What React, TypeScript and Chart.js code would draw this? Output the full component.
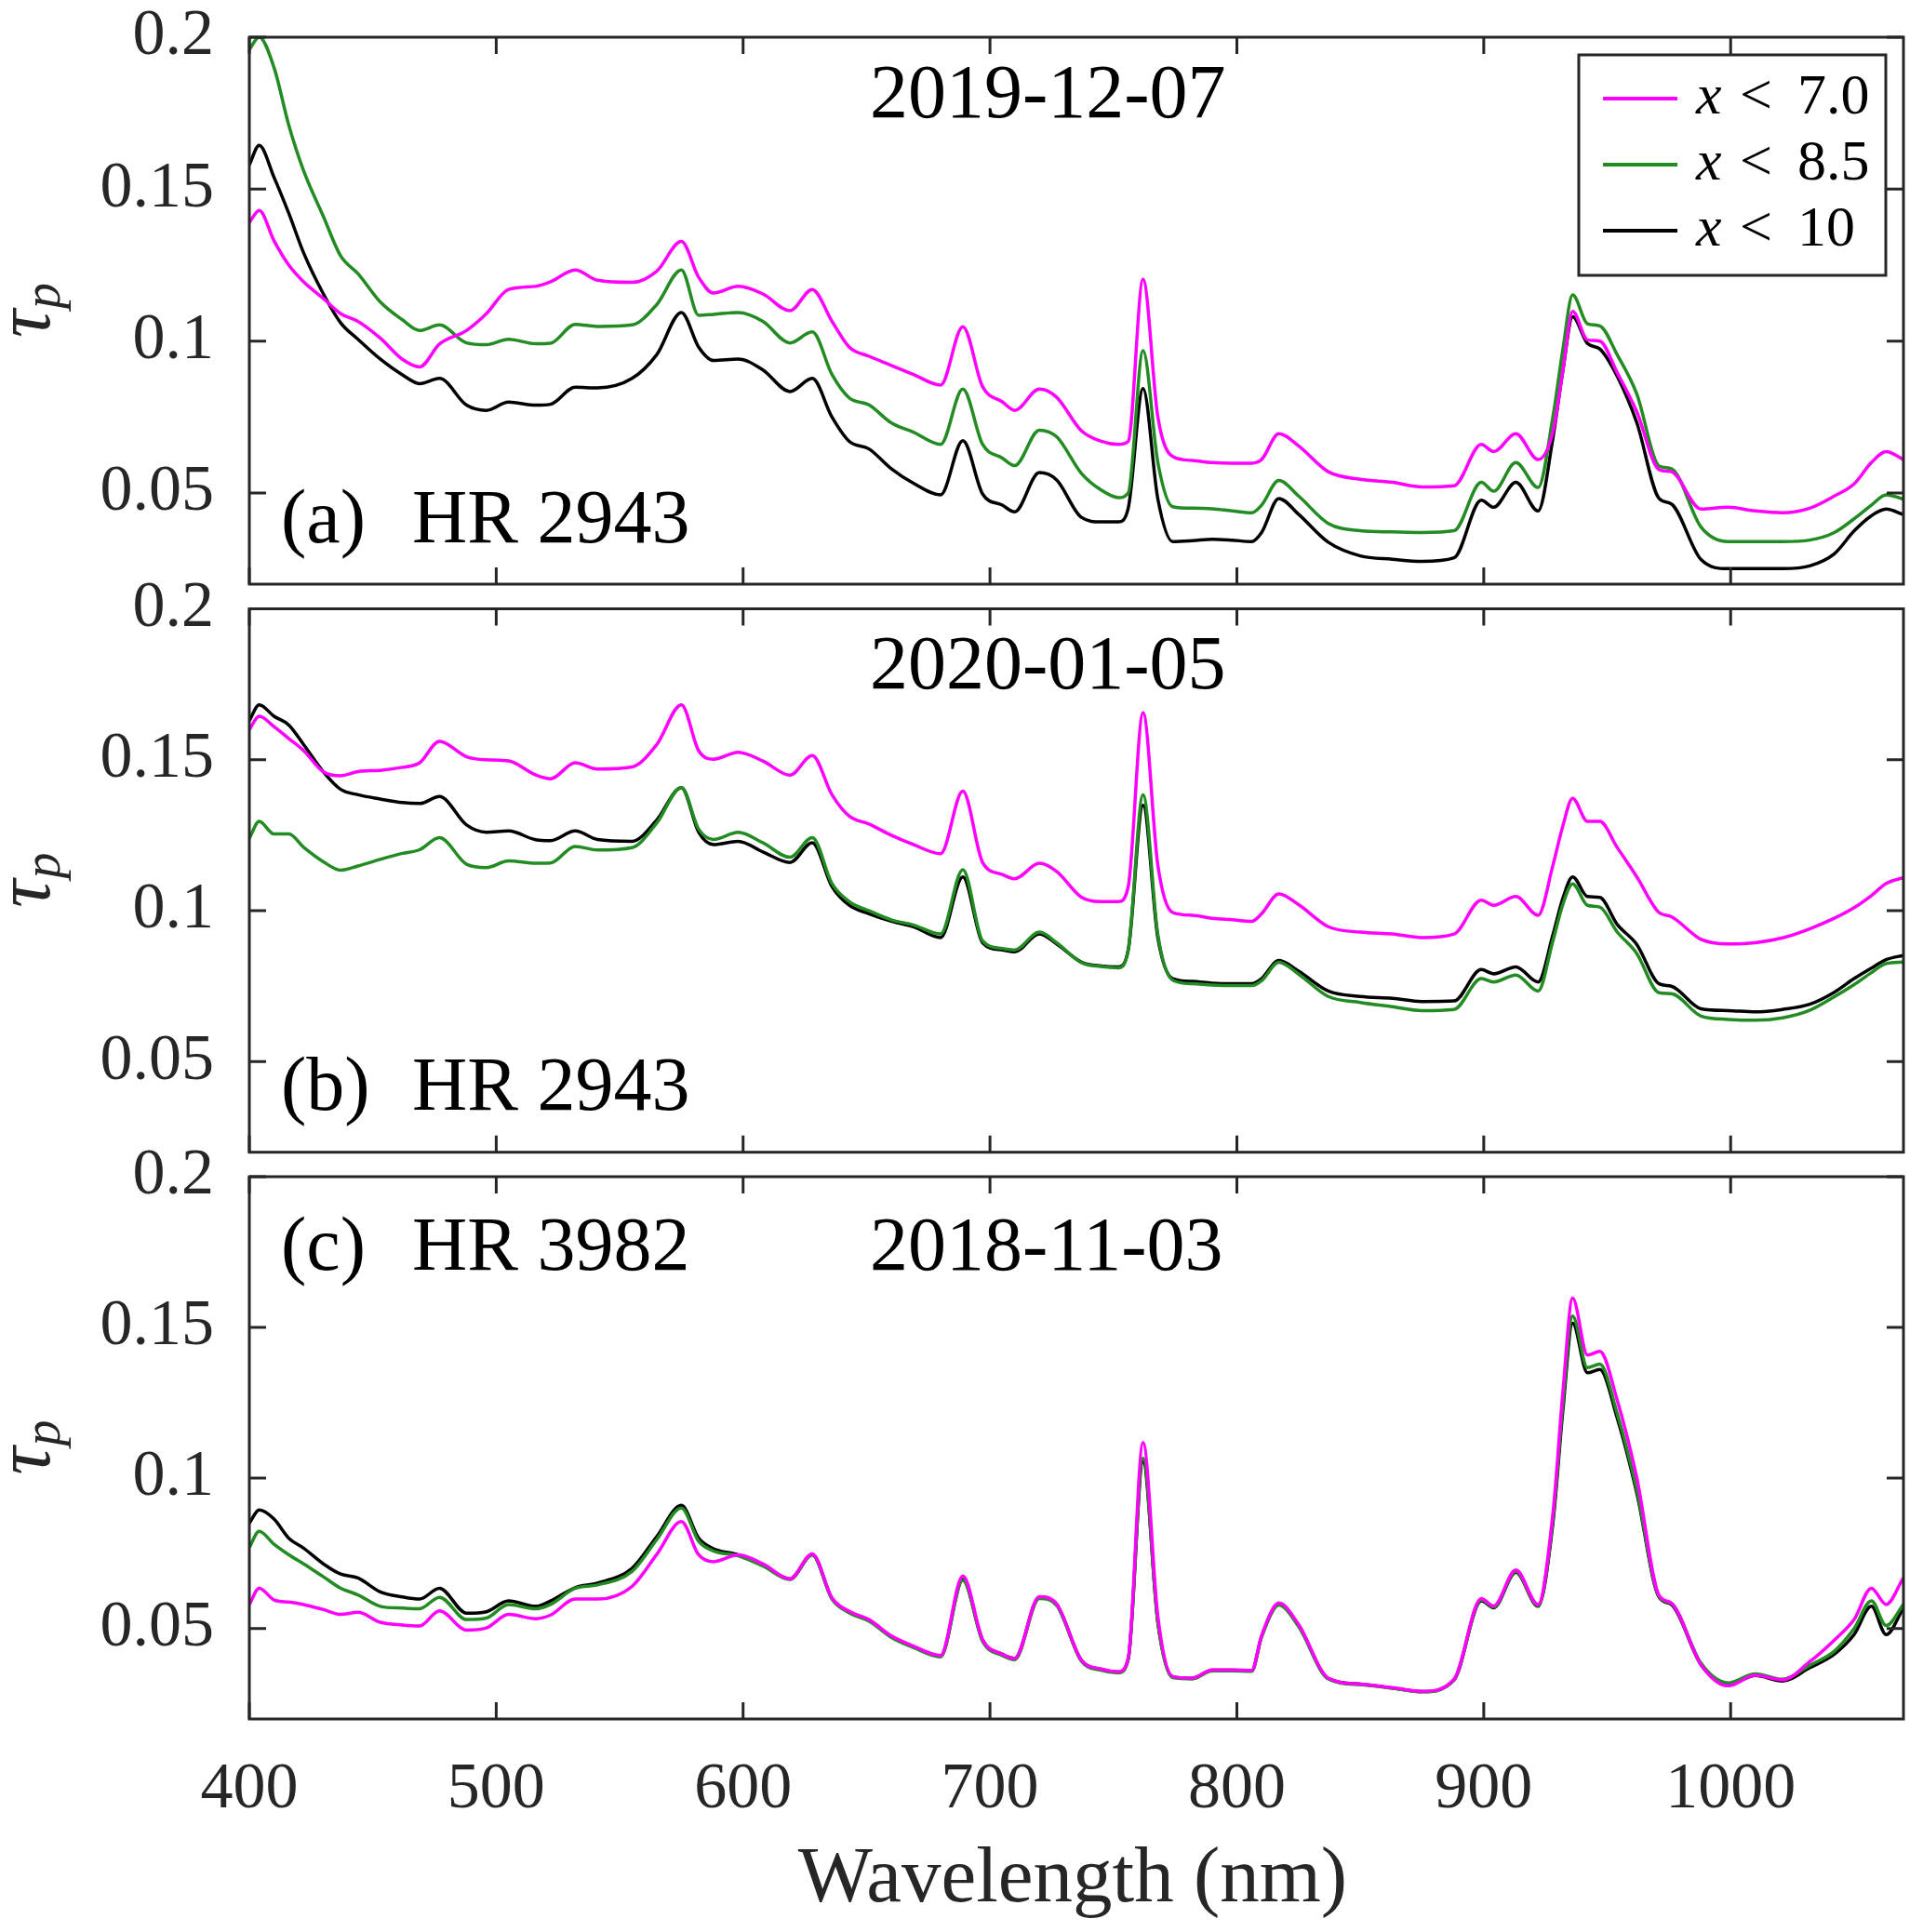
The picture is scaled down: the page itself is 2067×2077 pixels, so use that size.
import { useEffect, useRef, useState } from 'react';
import { Chart, registerables } from 'chart.js';

Chart.register(...registerables);

// wavelength grid (nm), shared by all panels
const wavelength = [
  400, 404, 410, 416, 422, 430, 437, 444, 453, 462,
  469, 477, 488, 496, 505, 516, 522, 532, 541, 555,
  565, 575, 582, 588, 598, 608, 619, 628, 636, 643,
  651, 660, 669, 680, 689, 697, 705, 710, 720, 727,
  737, 745, 752, 756, 762, 768, 774, 782, 790, 798,
  806, 810, 817, 825, 837, 850, 863, 875, 888, 899,
  904, 913, 922, 928, 932, 936, 942, 947, 954, 962,
  971, 976, 988, 999, 1010, 1021, 1032, 1042, 1050, 1057,
  1063, 1070,
];

// (a) HR 2943, 2019-12-07
const aMag = [
  0.139, 0.143, 0.133, 0.125, 0.1195, 0.114, 0.109, 0.1065, 0.101, 0.094,
  0.0915, 0.099, 0.1035, 0.109, 0.117, 0.118, 0.1195, 0.1234, 0.120, 0.1193,
  0.123, 0.1328, 0.121, 0.1158, 0.118, 0.1155, 0.110, 0.117, 0.1065, 0.098,
  0.095, 0.092, 0.089, 0.0855, 0.1047, 0.085, 0.080, 0.0772, 0.0842, 0.0815,
  0.0705, 0.067, 0.066, 0.067, 0.1203, 0.075, 0.062, 0.0607, 0.060, 0.0598,
  0.0598, 0.061, 0.0695, 0.0655, 0.057, 0.0545, 0.0535, 0.052, 0.0524, 0.066,
  0.0636, 0.0695, 0.061, 0.070, 0.090, 0.1098, 0.1004, 0.100, 0.0897, 0.0767,
  0.0577, 0.057, 0.0447, 0.0453, 0.0441, 0.0435, 0.045, 0.049, 0.053, 0.060,
  0.0636, 0.061,
];
const aGrn = [
  0.196, 0.2, 0.19, 0.171, 0.156, 0.141, 0.128, 0.1222, 0.1129, 0.107,
  0.1035, 0.1053, 0.0994, 0.0988, 0.1006, 0.0991, 0.0993, 0.1055, 0.1048, 0.1053,
  0.112, 0.1234, 0.1085, 0.1088, 0.1094, 0.1065, 0.0994, 0.103, 0.089, 0.0813,
  0.079, 0.0731, 0.070, 0.066, 0.0842, 0.066, 0.0615, 0.059, 0.0707, 0.0685,
  0.0565, 0.051, 0.0485, 0.050, 0.0968, 0.060, 0.0455, 0.045, 0.0448, 0.0441,
  0.0435, 0.046, 0.0541, 0.049, 0.040, 0.0376, 0.0372, 0.037, 0.0376, 0.0535,
  0.0506, 0.060, 0.0518, 0.075, 0.097, 0.1152, 0.1057, 0.105, 0.0956, 0.0826,
  0.0589, 0.058, 0.0388, 0.034, 0.034, 0.034, 0.0345, 0.037, 0.0415, 0.046,
  0.0494, 0.048,
];
const aBlk = [
  0.158, 0.1644, 0.1539, 0.142, 0.129, 0.1155, 0.106, 0.1006, 0.0941, 0.0889,
  0.086, 0.0877, 0.0789, 0.0772, 0.0799, 0.0789, 0.0792, 0.0848, 0.0846, 0.0877,
  0.0955, 0.1094, 0.098, 0.0936, 0.0941, 0.0905, 0.0834, 0.0877, 0.075, 0.067,
  0.0645, 0.058, 0.0532, 0.0494, 0.0672, 0.0497, 0.046, 0.0438, 0.0567, 0.0543,
  0.042, 0.0405, 0.0405, 0.045, 0.0844, 0.048, 0.034, 0.0343, 0.0348, 0.0345,
  0.034, 0.037, 0.0482, 0.043, 0.0338, 0.0293, 0.0282, 0.0275, 0.0287, 0.0476,
  0.0453, 0.0535, 0.0441, 0.068, 0.090, 0.108, 0.0992, 0.0974, 0.0885, 0.0731,
  0.0482, 0.0464, 0.0281, 0.0251, 0.0251, 0.0251, 0.026, 0.030, 0.0375, 0.0425,
  0.0447, 0.0429,
];

// (b) HR 2943, 2020-01-05
const bMag = [
  0.160, 0.1644, 0.161, 0.157, 0.153, 0.146, 0.1447, 0.1461, 0.1465, 0.1475,
  0.149, 0.1561, 0.151, 0.150, 0.1496, 0.145, 0.1437, 0.149, 0.1469, 0.1476,
  0.155, 0.1682, 0.153, 0.1502, 0.1525, 0.1496, 0.1449, 0.1514, 0.1384, 0.1313,
  0.1287, 0.125, 0.1219, 0.1189, 0.1396, 0.116, 0.112, 0.1106, 0.1157, 0.113,
  0.1045, 0.103, 0.103, 0.108, 0.1656, 0.115, 0.0994, 0.0985, 0.0975, 0.097,
  0.0965, 0.099, 0.1056, 0.102, 0.0947, 0.0929, 0.0923, 0.0911, 0.0923, 0.1035,
  0.1018, 0.1047, 0.0985, 0.115, 0.128, 0.1372, 0.1296, 0.1296, 0.121, 0.1112,
  0.0994, 0.098, 0.0905, 0.089, 0.0894, 0.091, 0.094, 0.0975, 0.101, 0.105,
  0.109, 0.111,
];
const bGrn = [
  0.124, 0.1296, 0.1254, 0.1254, 0.121, 0.1162, 0.1134, 0.1148, 0.117, 0.119,
  0.1202, 0.1242, 0.1154, 0.1143, 0.1165, 0.1157, 0.1158, 0.1213, 0.1201, 0.1209,
  0.129, 0.1408, 0.127, 0.1236, 0.126, 0.1225, 0.1177, 0.1242, 0.109, 0.103,
  0.100, 0.097, 0.0953, 0.0923, 0.1136, 0.090, 0.0875, 0.087, 0.0929, 0.0894,
  0.0828, 0.0815, 0.0811, 0.087, 0.1384, 0.092, 0.077, 0.0758, 0.0754, 0.0752,
  0.0752, 0.0768, 0.0829, 0.079, 0.0716, 0.0696, 0.0682, 0.0669, 0.0673, 0.0775,
  0.0764, 0.0787, 0.0734, 0.090, 0.102, 0.1089, 0.1018, 0.1012, 0.093, 0.0858,
  0.0728, 0.0725, 0.0651, 0.064, 0.0637, 0.0645, 0.067, 0.0715, 0.0755, 0.0795,
  0.0825, 0.083,
];
const bBlk = [
  0.163, 0.1682, 0.1644, 0.1615, 0.155, 0.146, 0.1402, 0.1384, 0.137, 0.1358,
  0.1355, 0.1378, 0.1284, 0.126, 0.1264, 0.1235, 0.1232, 0.1264, 0.1236, 0.123,
  0.130, 0.1408, 0.126, 0.1219, 0.123, 0.1195, 0.116, 0.1225, 0.108, 0.1018,
  0.099, 0.0965, 0.0947, 0.0911, 0.1112, 0.0894, 0.087, 0.0864, 0.0923, 0.089,
  0.083, 0.0817, 0.0814, 0.087, 0.1349, 0.091, 0.0775, 0.0766, 0.076, 0.0758,
  0.0758, 0.0775, 0.0835, 0.080, 0.0734, 0.0716, 0.071, 0.0699, 0.0701, 0.0805,
  0.0791, 0.0814, 0.0764, 0.092, 0.104, 0.1112, 0.1047, 0.1044, 0.0955, 0.0888,
  0.0758, 0.075, 0.0675, 0.0669, 0.0665, 0.0673, 0.069, 0.073, 0.0775, 0.081,
  0.0838, 0.0852,
];

// (c) HR 3982, 2018-11-03
const cMag = [
  0.058, 0.0634, 0.0595, 0.0588, 0.058, 0.0563, 0.0547, 0.0554, 0.0521, 0.0512,
  0.0509, 0.0559, 0.0495, 0.0502, 0.0547, 0.0533, 0.0545, 0.0598, 0.0598, 0.064,
  0.0746, 0.0855, 0.0745, 0.0722, 0.0745, 0.0715, 0.0665, 0.0748, 0.0602, 0.0557,
  0.053, 0.0476, 0.0442, 0.0411, 0.0675, 0.0464, 0.0415, 0.0401, 0.0606, 0.0582,
  0.0396, 0.0366, 0.0357, 0.0402, 0.1118, 0.054, 0.0341, 0.0336, 0.0363, 0.0363,
  0.0361, 0.0476, 0.0585, 0.0514, 0.0336, 0.0316, 0.0304, 0.0292, 0.0332, 0.060,
  0.0575, 0.0695, 0.058, 0.088, 0.128, 0.1597, 0.1408, 0.142, 0.126, 0.100,
  0.061, 0.0585, 0.038, 0.031, 0.0345, 0.033, 0.039, 0.0462, 0.053, 0.0634,
  0.058, 0.0669,
];
const cGrn = [
  0.077, 0.0823, 0.078, 0.0745, 0.0715, 0.0672, 0.0634, 0.0612, 0.0574, 0.0568,
  0.0566, 0.0604, 0.053, 0.0535, 0.058, 0.0566, 0.058, 0.0634, 0.0645, 0.069,
  0.0795, 0.090, 0.079, 0.0758, 0.0742, 0.0708, 0.0663, 0.0744, 0.0598, 0.0552,
  0.0525, 0.0471, 0.0437, 0.0406, 0.066, 0.0458, 0.0411, 0.0397, 0.060, 0.0577,
  0.0392, 0.0362, 0.0353, 0.0398, 0.1065, 0.052, 0.0337, 0.0333, 0.036, 0.036,
  0.0358, 0.0472, 0.0578, 0.0507, 0.0333, 0.0314, 0.0302, 0.029, 0.033, 0.0595,
  0.0572, 0.069, 0.0576, 0.086, 0.124, 0.1538, 0.1366, 0.1378, 0.1215, 0.096,
  0.0606, 0.0583, 0.0385, 0.032, 0.035, 0.0332, 0.0378, 0.0425, 0.050, 0.0592,
  0.051, 0.058,
];
const cBlk = [
  0.085, 0.0894, 0.0864, 0.080, 0.0767, 0.0715, 0.0681, 0.0668, 0.0622, 0.0605,
  0.0598, 0.0634, 0.0551, 0.0556, 0.0592, 0.0574, 0.0592, 0.0636, 0.0651, 0.070,
  0.0805, 0.0909, 0.080, 0.0765, 0.0745, 0.071, 0.0665, 0.0746, 0.060, 0.0555,
  0.0528, 0.0474, 0.044, 0.0409, 0.0663, 0.0462, 0.0415, 0.0401, 0.0604, 0.058,
  0.0395, 0.0365, 0.0356, 0.040, 0.1053, 0.052, 0.034, 0.0335, 0.0362, 0.0362,
  0.036, 0.0474, 0.058, 0.051, 0.0335, 0.0316, 0.0303, 0.0291, 0.033, 0.0592,
  0.0569, 0.0687, 0.0574, 0.085, 0.122, 0.1514, 0.1349, 0.136, 0.120, 0.095,
  0.0604, 0.058, 0.038, 0.0314, 0.0344, 0.0326, 0.037, 0.0415, 0.048, 0.0574,
  0.048, 0.0569,
];

const seriesNames = ['x < 7.0', 'x < 8.5', 'x < 10'];
const seriesColors = ['#ff00ff', '#228b22', '#000000'];
const xTicks = [400, 500, 600, 700, 800, 900, 1000];
const yTicks = [0.05, 0.1, 0.15, 0.2];

const SERIF = '"Liberation Serif", "Times New Roman", Tinos, "DejaVu Serif", "Noto Serif", serif';
const AXIS = '#262626';
const PAGE_W = 2067;
const TICK = 18;

interface PanelDef {
  tag: string;
  star: string;
  date: string;
  values: number[][];
  canvasTop: number;
  canvasHeight: number;
  padTop: number;
  padBottom: number;
  labelBase: number;
  dateBase: number;
  legend: boolean;
  bottomAxis: boolean;
}

const panels: PanelDef[] = [
  {
    tag: '(a)', star: 'HR 2943', date: '2019-12-07', values: [aMag, aGrn, aBlk],
    canvasTop: 0, canvasHeight: 660, padTop: 40, padBottom: 32,
    labelBase: 543, dateBase: 86, legend: true, bottomAxis: false,
  },
  {
    tag: '(b)', star: 'HR 2943', date: '2020-01-05', values: [bMag, bGrn, bBlk],
    canvasTop: 600, canvasHeight: 670, padTop: 54.5, padBottom: 31.3,
    labelBase: 538, dateBase: 85, legend: false, bottomAxis: false,
  },
  {
    tag: '(c)', star: 'HR 3982', date: '2018-11-03', values: [cMag, cGrn, cBlk],
    canvasTop: 1210, canvasHeight: 867, padTop: 55, padBottom: 0,
    labelBase: 100, dateBase: 100, legend: false, bottomAxis: true,
  },
];

function makePanelPlugin(panel: PanelDef) {
  return {
    id: 'panelDecor',
    afterDatasetsDraw(chart: any) {
      const { ctx, chartArea: a, scales } = chart;
      const xs = scales.x;
      const ys = scales.y;
      ctx.save();

      // axes box with inward ticks
      ctx.strokeStyle = AXIS;
      ctx.lineWidth = 3;
      ctx.strokeRect(a.left, a.top, a.right - a.left, a.bottom - a.top);
      ctx.beginPath();
      xTicks.forEach((v) => {
        const px = xs.getPixelForValue(v);
        ctx.moveTo(px, a.bottom);
        ctx.lineTo(px, a.bottom - TICK);
        ctx.moveTo(px, a.top);
        ctx.lineTo(px, a.top + TICK);
      });
      yTicks.forEach((v) => {
        const py = ys.getPixelForValue(v);
        ctx.moveTo(a.left, py);
        ctx.lineTo(a.left + TICK, py);
        ctx.moveTo(a.right, py);
        ctx.lineTo(a.right - TICK, py);
      });
      ctx.stroke();

      // panel annotations
      ctx.fillStyle = '#000';
      ctx.font = `82px ${SERIF}`;
      ctx.textBaseline = 'alphabetic';
      ctx.textAlign = 'left';
      ctx.fillText(panel.tag, a.left + 34, a.top + panel.labelBase);
      ctx.fillText(panel.star, a.left + 175, a.top + panel.labelBase);
      ctx.fillText(panel.date, a.left + 667, a.top + panel.dateBase);

      // y label: tau_p
      const cy = (a.top + a.bottom) / 2;
      ctx.save();
      ctx.translate(46, cy);
      ctx.rotate(-Math.PI / 2);
      ctx.fillStyle = AXIS;
      ctx.font = `italic 84px ${SERIF}`;
      const wt = ctx.measureText('τ').width;
      ctx.font = `italic 56px ${SERIF}`;
      const wp = ctx.measureText('p').width;
      const x0 = -(wt + wp) / 2;
      ctx.font = `italic 84px ${SERIF}`;
      ctx.fillText('τ', x0, 7);
      ctx.font = `italic 56px ${SERIF}`;
      ctx.fillText('p', x0 + wt + 1, 18);
      ctx.restore();

      // x title
      if (panel.bottomAxis) {
        ctx.fillStyle = AXIS;
        ctx.font = `85px ${SERIF}`;
        ctx.textAlign = 'center';
        ctx.fillText('Wavelength (nm)', (a.left + a.right) / 2 - 4, a.bottom + 196);
      }

      // legend
      if (panel.legend) {
        const bx = 1697, by = 59, bw = 330, bh = 237;
        ctx.fillStyle = '#fff';
        ctx.fillRect(bx, by, bw, bh);
        ctx.strokeStyle = AXIS;
        ctx.lineWidth = 3;
        ctx.strokeRect(bx, by, bw, bh);
        const rows = [106, 177, 248];
        chart.data.datasets.forEach((ds: any, i: number) => {
          const ly = rows[i];
          ctx.strokeStyle = ds.borderColor;
          ctx.lineWidth = 4;
          ctx.beginPath();
          ctx.moveTo(1723, ly);
          ctx.lineTo(1803, ly);
          ctx.stroke();
          const [v, op, num] = String(ds.label).split(' ');
          ctx.fillStyle = '#000';
          ctx.textAlign = 'left';
          ctx.textBaseline = 'middle';
          ctx.font = `italic 62px ${SERIF}`;
          ctx.fillText(v, 1823, ly);
          ctx.font = `62px ${SERIF}`;
          ctx.fillText(op, 1870, ly);
          ctx.fillText(num, 1932, ly);
        });
      }
      ctx.restore();
    },
  };
}

function Panel({ panel }: { panel: PanelDef }) {
  const canvasRef = useRef<HTMLCanvasElement>(null);

  useEffect(() => {
    const canvas = canvasRef.current;
    if (!canvas) return;
    const chart = new Chart(canvas, {
      type: 'line',
      data: {
        datasets: panel.values.map((vals, i) => ({
          label: seriesNames[i],
          data: wavelength.map((w, j) => ({ x: w, y: vals[j] })),
          borderColor: seriesColors[i],
          backgroundColor: seriesColors[i],
          borderWidth: 3.5,
          pointRadius: 0,
          cubicInterpolationMode: 'monotone',
          fill: false,
        })),
      },
      options: {
        animation: false,
        responsive: false,
        events: [],
        font: { family: SERIF },
        layout: { padding: { left: 0, right: PAGE_W - 2046, top: panel.padTop, bottom: panel.padBottom } },
        plugins: { legend: { display: false }, tooltip: { enabled: false } },
        scales: {
          x: {
            type: 'linear',
            min: 400,
            max: 1070,
            display: panel.bottomAxis,
            afterBuildTicks: (s: any) => { s.ticks = xTicks.map((v) => ({ value: v })); },
            afterFit: (s: any) => {
              s.height = panel.bottomAxis ? panel.canvasHeight - panel.padTop - (1848 - 1265) : 0;
              s.paddingLeft = 0;
              s.paddingRight = 0;
            },
            grid: { display: false, drawTicks: false },
            border: { display: false },
            ticks: {
              color: AXIS,
              font: { family: SERIF, size: 70 },
              padding: 35,
              maxRotation: 0,
              autoSkip: false,
              callback: (v: any) => String(v),
            },
          },
          y: {
            type: 'linear',
            min: 0.02,
            max: 0.2,
            afterBuildTicks: (s: any) => { s.ticks = yTicks.map((v) => ({ value: v })); },
            afterFit: (s: any) => {
              s.width = 268;
              s.paddingTop = 0;
              s.paddingBottom = 0;
            },
            grid: { display: false, drawTicks: false },
            border: { display: false },
            ticks: {
              color: AXIS,
              font: { family: SERIF, size: 70 },
              padding: 38,
              callback: (v: any) => String(Math.round(Number(v) * 100) / 100),
            },
          },
        },
      } as any,
      plugins: [makePanelPlugin(panel)],
    } as any);
    return () => chart.destroy();
  }, [panel]);

  return (
    <canvas
      ref={canvasRef}
      width={PAGE_W}
      height={panel.canvasHeight}
      style={{ position: 'absolute', left: 0, top: panel.canvasTop, width: PAGE_W, height: panel.canvasHeight }}
    />
  );
}

export default function App() {
  const [ready, setReady] = useState(false);

  useEffect(() => {
    let alive = true;
    const fams = ['"Liberation Serif"', '"Times New Roman"', '"DejaVu Serif"'];
    const loads = fams.flatMap((f) => [
      document.fonts.load(`70px ${f}`, '0123 Wavelength'),
      document.fonts.load(`italic 70px ${f}`, 'xpτ'),
    ]);
    Promise.all(loads)
      .catch(() => null)
      .then(() => document.fonts.ready)
      .then(() => { if (alive) setReady(true); });
    return () => { alive = false; };
  }, []);

  return (
    <div style={{ position: 'absolute', left: 0, top: 0, width: PAGE_W, height: 2077, background: '#fff', overflow: 'hidden' }}>
      <span style={{ position: 'absolute', left: -9999, top: 0, fontFamily: SERIF }}>
        0.15 <i>xτp</i>
      </span>
      {ready && panels.map((p) => <Panel key={p.tag} panel={p} />)}
    </div>
  );
}
